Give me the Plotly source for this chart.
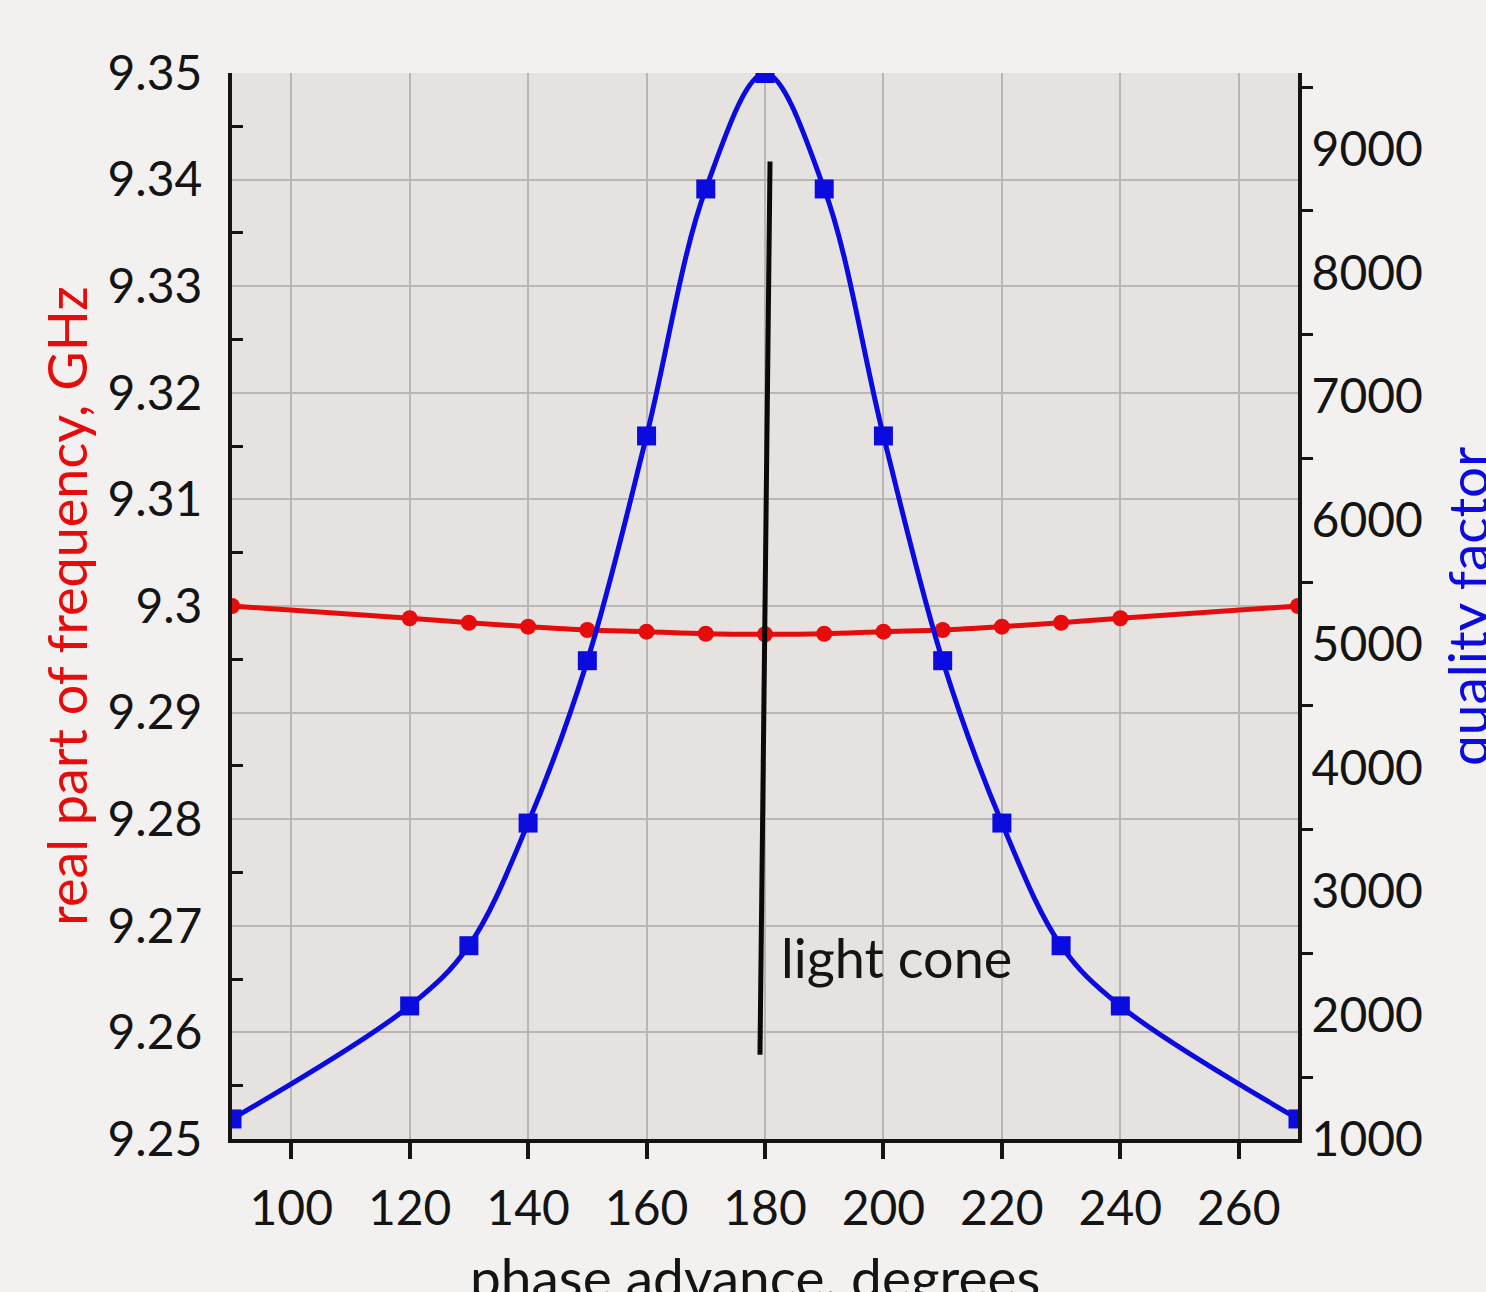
import plotly.graph_objects as go

# phase advance (degrees)
phase = [90, 120, 130, 140, 150, 160, 170, 180, 190, 200, 210, 220, 230, 240, 270]

# real part of frequency, GHz
freq = [9.3000, 9.29885, 9.29843, 9.29806, 9.29775, 9.29759, 9.29740, 9.29735,
        9.29740, 9.29759, 9.29775, 9.29806, 9.29843, 9.29885, 9.3000]

# quality factor
qf = [1162, 2075, 2562, 3553, 4865, 6681, 8677, 9610,
      8677, 6681, 4865, 3553, 2562, 2075, 1162]

# light cone marker line
cone_x = [180.85, 179.15]
cone_y = [9.3417, 9.2579]

FONT = "Lato"
RED = "#e60c0c"
BLUE = "#0b0be0"
INK = "#141414"
GRID = "#b9b7b5"

fig = go.Figure()

fig.add_trace(go.Scatter(
    x=phase, y=freq, mode="lines+markers",
    line=dict(color=RED, width=5, shape="spline"),
    marker=dict(color=RED, size=16, symbol="circle"),
))

fig.add_trace(go.Scatter(
    x=cone_x, y=cone_y, mode="lines",
    line=dict(color="#0a0a0a", width=5),
))

fig.add_trace(go.Scatter(
    x=phase, y=qf, yaxis="y2", mode="lines+markers",
    line=dict(color=BLUE, width=5, shape="spline", smoothing=1.0),
    marker=dict(color=BLUE, size=19, symbol="square"),
))

fig.add_annotation(
    x=182.4, y=9.267, text="light cone", showarrow=False,
    xanchor="left", yanchor="middle",
    font=dict(family=FONT, size=54, color=INK),
)

# axis titles that run off the page edge, as in the original
fig.add_annotation(
    xref="paper", yref="paper", x=0.4906, y=-0.1295,
    text="phase advance, degrees", showarrow=False,
    xanchor="center", yanchor="middle",
    font=dict(family=FONT, size=55, color=INK),
)
fig.add_annotation(
    xref="paper", yref="paper", x=1.1585, y=0.5,
    text="quality factor", showarrow=False, textangle=-90,
    xanchor="center", yanchor="middle",
    font=dict(family=FONT, size=55, color=BLUE),
)

fig.update_layout(
    width=1486, height=1292, autosize=False,
    margin=dict(l=232, r=188, t=73, b=153),
    paper_bgcolor="#f3f1ef",
    plot_bgcolor="#e5e2e0",
    showlegend=False,
    font=dict(family=FONT, size=48, color=INK),
    xaxis=dict(
        range=[90, 270], dtick=20, tick0=0, automargin=False,
        showline=True, linecolor=INK, linewidth=4,
        ticks="outside", ticklen=16, tickwidth=3.5, tickcolor=INK,
        ticklabelstandoff=8,
        showgrid=True, gridcolor=GRID, gridwidth=1.5,
        zeroline=False,
    ),
    yaxis=dict(
        range=[9.25, 9.35], dtick=0.01, tick0=9.25, automargin=False,
        showline=True, linecolor=INK, linewidth=4,
        ticks="", ticklabelstandoff=16,
        minor=dict(dtick=0.005, tick0=9.25, ticks="inside", ticklen=11,
                   tickwidth=3, tickcolor=INK, showgrid=False),
        showgrid=True, gridcolor=GRID, gridwidth=1.5,
        zeroline=False,
        title=dict(text="real part of frequency, GHz", standoff=4,
                   font=dict(family=FONT, size=54, color=RED)),
    ),
    yaxis2=dict(
        range=[1000, 9614], dtick=1000, tick0=1000, automargin=False,
        overlaying="y", side="right",
        showline=True, linecolor=INK, linewidth=4,
        ticks="",
        minor=dict(dtick=500, tick0=1000, ticks="outside", ticklen=11,
                   tickwidth=3, tickcolor=INK, showgrid=False),
        ticklabelstandoff=0,
        showgrid=False, zeroline=False,
    ),
)

# pin the figure to the window corner: no page margin, no scrollbars, no modebar
fix_page = (
    "var st=document.createElement('style');"
    "st.textContent='html,body{margin:0;padding:0;overflow:hidden;background:#f3f1ef}"
    ".modebar-container{display:none!important}';"
    "document.head.appendChild(st);"
    "var gd=document.getElementById('{plot_id}');"
    "Plotly.relayout(gd,{autosize:false,width:1486,height:1292});"
)

fig.write_html("out.html", post_script=fix_page)
